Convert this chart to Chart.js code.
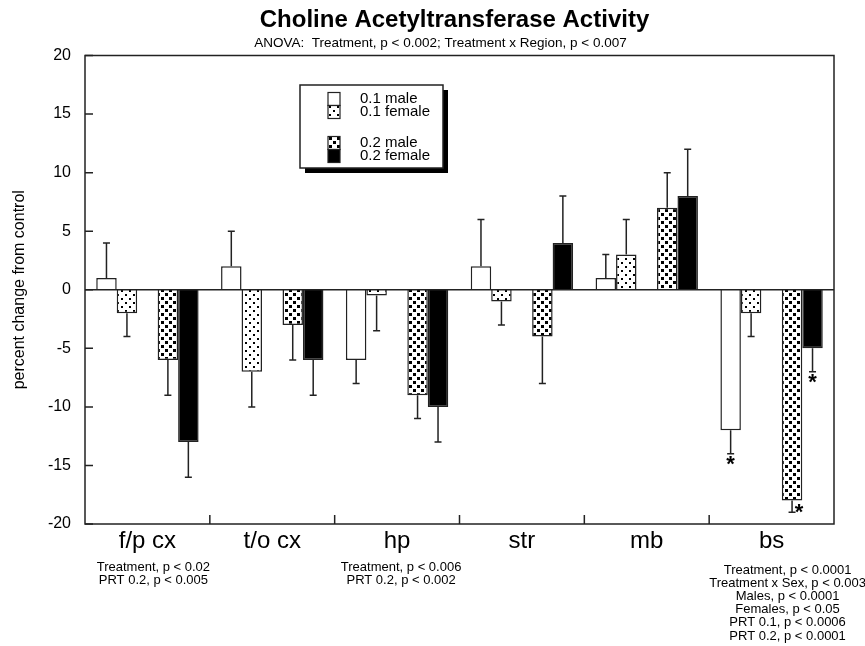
<!DOCTYPE html>
<html>
<head>
<meta charset="utf-8">
<title>Choline Acetyltransferase Activity</title>
<script src="https://cdn.jsdelivr.net/npm/chart.js@4.4.1/dist/chart.umd.min.js"></script>
<style>
  html, body { margin: 0; padding: 0; background: #fff; }
  canvas { display: block; }
</style>
</head>
<body>
<canvas id="chart" width="865" height="646"></canvas>
<script>
// === Données : % de variation par rapport au contrôle ===
const regions = ['f/p cx', 't/o cx', 'hp', 'str', 'mb', 'bs'];
const male01 = [1, 2, -6, 2, 1, -12];
const female01 = [-2, -7, -0.5, -1, 3, -2];
const male02 = [-6, -3, -9, -4, 7, -18];
const female02 = [-13, -6, -10, 4, 8, -5];
// erreur standard (dessinée d'un seul côté, à l'opposé de zéro)
const male01Err = [3, 3, 2, 4, 2, 2];
const female01Err = [2, 3, 3, 2, 3, 2];
const male02Err = [3, 3, 2, 4, 3, 1];
const female02Err = [3, 3, 3, 4, 4, 2];
const gap = [null, null, null, null, null, null];
const yTicks = [-20, -15, -10, -5, 0, 5, 10, 15, 20];

const mainTitle = 'Choline Acetyltransferase Activity';
const subTitle = 'ANOVA:  Treatment, p < 0.002; Treatment x Region, p < 0.007';
const regionNotes = [
    ['Treatment, p < 0.02', 'PRT 0.2, p < 0.005'],
    [],
    ['Treatment, p < 0.006', 'PRT 0.2, p < 0.002'],
    [],
    [],
    ['Treatment, p < 0.0001', 'Treatment x Sex, p < 0.003', 'Males, p < 0.0001',
     'Females, p < 0.05', 'PRT 0.1, p < 0.0006', 'PRT 0.2, p < 0.0001']
];
// astérisques : [région, série]
const sigMarks = [[5, 0], [5, 3], [5, 4]];

const FONT = '"Liberation Sans", Arial, Helvetica, sans-serif';
const INK = '#222';

// === Motifs de remplissage ===
function makePattern(size, draw) {
    const c = document.createElement('canvas');
    c.width = size; c.height = size;
    const g = c.getContext('2d');
    g.fillStyle = '#fff';
    g.fillRect(0, 0, size, size);
    g.fillStyle = '#000';
    draw(g);
    return document.getElementById('chart').getContext('2d').createPattern(c, 'repeat');
}
const dots = makePattern(8, g => {
    g.fillRect(1, 2, 2, 2);
    g.fillRect(5, 6, 2, 2);
});
const squares = makePattern(8, g => {
    g.fillRect(1, 1, 3, 3);
    g.fillRect(5, 5, 3, 3);
});

// === Décor : cadre, zéro, barres d'erreur, légende, annotations ===
const decorations = {
    id: 'decorations',
    afterDatasetsDraw(chart) {
        const { ctx, chartArea: a, scales: { x, y } } = chart;
        ctx.save();
        ctx.strokeStyle = INK;
        ctx.lineWidth = 1.5;

        // barres d'erreur
        chart.data.datasets.forEach((ds, di) => {
            if (!ds.err) return;
            chart.getDatasetMeta(di).data.forEach((bar, i) => {
                const v = ds.data[i];
                const end = v >= 0 ? v + ds.err[i] : v - ds.err[i];
                const y0 = y.getPixelForValue(v);
                const y1 = y.getPixelForValue(end);
                ctx.beginPath();
                ctx.moveTo(bar.x, y0);
                ctx.lineTo(bar.x, y1);
                ctx.moveTo(bar.x - 3.5, y1);
                ctx.lineTo(bar.x + 3.5, y1);
                ctx.stroke();
            });
        });

        // ligne du zéro
        const y0 = y.getPixelForValue(0);
        ctx.beginPath();
        ctx.moveTo(a.left, y0);
        ctx.lineTo(a.right, y0);
        ctx.stroke();

        // cadre
        ctx.strokeRect(a.left, a.top, a.right - a.left, a.bottom - a.top);

        // graduations vers l'intérieur
        ctx.beginPath();
        yTicks.forEach(t => {
            const py = y.getPixelForValue(t);
            ctx.moveTo(a.left, py);
            ctx.lineTo(a.left + 8, py);
        });
        for (let i = 1; i < regions.length; i++) {
            const px = (x.getPixelForValue(i - 1) + x.getPixelForValue(i)) / 2;
            ctx.moveTo(px, a.bottom);
            ctx.lineTo(px, a.bottom - 9);
        }
        ctx.stroke();

        // astérisques
        ctx.fillStyle = '#000';
        ctx.font = 'bold 22px ' + FONT;
        ctx.textAlign = 'center';
        ctx.textBaseline = 'alphabetic';
        sigMarks.forEach(([r, di]) => {
            const ds = chart.data.datasets[di];
            const bar = chart.getDatasetMeta(di).data[r];
            const v = ds.data[r];
            const end = v >= 0 ? v + ds.err[r] : v - ds.err[r];
            let px = bar.x;
            let py = y.getPixelForValue(end) + 7;
            if (py + 8 > a.bottom) { px += 7; py -= 11; }
            const m = ctx.measureText('*');
            const mid = (m.actualBoundingBoxAscent - m.actualBoundingBoxDescent) / 2;
            ctx.fillText('*', px, py + mid);
        });
        ctx.restore();
    },
    afterDraw(chart) {
        const { ctx, chartArea: a, scales: { x } } = chart;
        ctx.save();
        const cx = (a.left + a.right) / 2;

        // titres
        ctx.fillStyle = '#000';
        ctx.textAlign = 'center';
        ctx.textBaseline = 'middle';
        ctx.font = 'bold 24px ' + FONT;
        ctx.fillText(mainTitle, cx - 5, 20);
        ctx.font = '13.5px ' + FONT;
        ctx.fillText(subTitle, cx - 19, 43);

        // annotations sous les régions
        const shift = [6, 0, 4, 0, 0, 16];
        const top = [567, 0, 567, 0, 0, 570];
        ctx.font = '13px ' + FONT;
        regionNotes.forEach((lines, r) => {
            lines.forEach((t, k) => {
                ctx.fillText(t, x.getPixelForValue(r) + shift[r], top[r] + k * 13.2);
            });
        });

        // légende
        const L = { x: 300, y: 85, w: 143, h: 83 };
        ctx.fillStyle = '#000';
        ctx.fillRect(L.x + 5, L.y + 5, L.w, L.h);
        ctx.fillStyle = '#fff';
        ctx.fillRect(L.x, L.y, L.w, L.h);
        ctx.strokeStyle = INK;
        ctx.lineWidth = 1.5;
        ctx.strokeRect(L.x, L.y, L.w, L.h);
        const rows = [99, 112, 143, 156];
        const series = chart.data.datasets.filter(ds => ds.err);
        ctx.font = '15px ' + FONT;
        ctx.textAlign = 'left';
        series.forEach((ds, k) => {
            const ry = rows[k];
            ctx.fillStyle = ds.backgroundColor;
            ctx.fillRect(328, ry - 6.5, 12, 13);
            ctx.lineWidth = 1.2;
            ctx.strokeRect(328, ry - 6.5, 12, 13);
            ctx.fillStyle = '#000';
            ctx.fillText(ds.label, 360, ry);
        });
        ctx.restore();
    }
};

Chart.defaults.font.family = FONT;
Chart.defaults.color = '#000';

const barStyle = { borderColor: INK, borderWidth: 1.5 };

new Chart(document.getElementById('chart'), {
    type: 'bar',
    data: {
        labels: regions,
        datasets: [
            { label: '0.1 male', data: male01, err: male01Err, backgroundColor: '#fff', ...barStyle },
            { label: '0.1 female', data: female01, err: female01Err, backgroundColor: dots, ...barStyle },
            { label: '', data: gap },
            { label: '0.2 male', data: male02, err: male02Err, backgroundColor: squares, ...barStyle },
            { label: '0.2 female', data: female02, err: female02Err, backgroundColor: '#000', ...barStyle }
        ]
    },
    options: {
        responsive: false,
        devicePixelRatio: 1,
        animation: false,
        layout: { padding: { left: 0, right: 31, top: 55.5, bottom: 82 } },
        datasets: { bar: { categoryPercentage: 0.82, barPercentage: 1 } },
        plugins: {
            legend: { display: false },
            tooltip: { enabled: false }
        },
        scales: {
            x: {
                grid: { display: false, drawTicks: false },
                border: { display: false },
                ticks: { font: { size: 24 }, padding: 3 },
                afterFit(scale) { scale.height = 40; }
            },
            y: {
                min: -20,
                max: 20,
                grid: { display: false, drawTicks: false },
                border: { display: false },
                ticks: { stepSize: 5, font: { size: 16 }, padding: 14 },
                title: {
                    display: true,
                    text: 'percent change from control',
                    font: { size: 16 },
                    padding: { top: 10, bottom: 0 }
                },
                afterFit(scale) { scale.width = 85; }
            }
        }
    },
    plugins: [decorations]
});
</script>
</body>
</html>
